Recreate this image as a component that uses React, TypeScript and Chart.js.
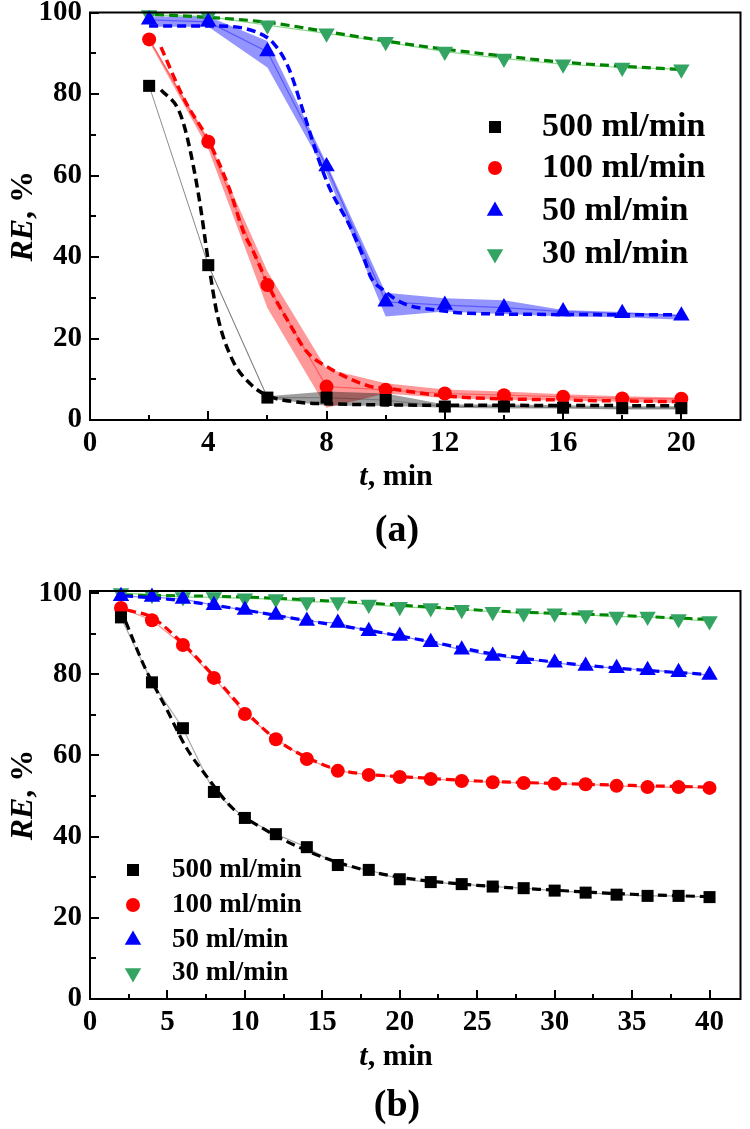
import React, { useEffect, useRef } from 'react';
import { Chart, registerables } from 'chart.js';
Chart.register(...registerables);

const SERIES_LABELS = ['500 ml/min', '100 ml/min', '50 ml/min', '30 ml/min'];

// ---------- panel (a) ----------
const T_A = [2, 4, 6, 8, 10, 12, 14, 16, 18, 20];
const RE_A_500 = [82, 38, 5.5, 5.5, 4.9, 3.3, 3.3, 3.0, 2.9, 2.9];
const RE_A_100 = [93.4, 68.3, 33.1, 8.2, 7.4, 6.5, 6.1, 5.7, 5.3, 5.2];
const RE_A_50 = [98.2, 97.7, 90.4, 62.2, 29, 28.2, 27.6, 26.6, 26.2, 25.6];
const RE_A_30 = [99.4, 99, 96.9, 94.9, 92.8, 90.4, 88.7, 87.3, 86.5, 86.1];

const BAND_A_500_LO = [81.8, 37.7, 5.3, 3.5, 3.5, 3.0, 2.8, 2.8, 2.6, 2.6];
const BAND_A_500_HI = [82.2, 38.3, 5.8, 7.0, 6.5, 3.8, 3.8, 3.6, 3.4, 3.4];
const BAND_A_100_LO = [92.8, 66.5, 27.5, 3.0, 6.5, 5.4, 5.0, 4.8, 4.5, 4.2];
const BAND_A_100_HI = [93.8, 69.0, 36.5, 12.5, 9.0, 7.5, 7.0, 6.3, 5.8, 5.5];
const BAND_A_50_LO = [96.5, 96.5, 86.5, 60.5, 25.4, 26.6, 26.0, 25.4, 25.2, 24.6];
const BAND_A_50_HI = [99.0, 99.0, 93.0, 63.0, 31.2, 29.9, 29.4, 27.0, 26.5, 25.8];

const FIT_A_500_T = [2.4, 3, 3.3, 3.7, 4, 4.3, 4.8, 5.4, 6, 7, 8, 10, 14, 20];
const FIT_A_500 = [81, 76, 69, 54, 39, 26, 15, 9, 6, 4.4, 4, 3.7, 3.6, 3.5];
const FIT_A_100_T = [2.4, 3.2, 4, 4.7, 5.2, 5.5, 6.1, 6.8, 7.3, 8.1, 9.5, 10, 12, 16, 20];
const FIT_A_100 = [91.5, 78.5, 68.7, 57, 46, 41.7, 32, 23, 17, 12.7, 8.2, 7.8, 5.9, 4.9, 4.5];
const FIT_A_50_T = [2, 4.3, 5.7, 6.2, 6.7, 7.2, 7.7, 8.1, 8.8, 9.3, 9.5, 9.9, 10.6, 11.7, 12.8, 16, 20];
const FIT_A_50 = [96.7, 96.7, 95, 92.5, 86.7, 76, 64.6, 57, 47.4, 39, 35, 32, 28.6, 27, 26.2, 25.9, 25.8];
const FIT_A_30_T = [2.2, 4, 6, 8, 10, 12, 14, 16, 18, 20];
const FIT_A_30 = [99.5, 98.8, 97.6, 95.3, 93, 91, 89.3, 87.8, 86.8, 86];

const X_TICKS_A = [0, 4, 8, 12, 16, 20];
const X_MINOR_A = [2, 6, 10, 14, 18];

// ---------- panel (b) ----------
const T_B = [2, 4, 6, 8, 10, 12, 14, 16, 18, 20, 22, 24, 26, 28, 30, 32, 34, 36, 38, 40];
const RE_B_500 = [94, 78, 66.7, 51, 44.6, 40.6, 37.4, 33, 31.8, 29.5, 28.8, 28.3, 27.7, 27.3, 26.7, 26.2, 25.7, 25.4, 25.4, 25.1];
const RE_B_100 = [96.3, 93.3, 87.2, 79.1, 70.2, 64, 59.1, 56.2, 55.2, 54.7, 54.2, 53.7, 53.4, 53.2, 53, 52.9, 52.5, 52.2, 52.2, 52];
const RE_B_50 = [99.2, 99, 98.5, 97, 95.8, 94.6, 93.1, 92.6, 90.6, 89.4, 87.9, 86, 84.5, 83.7, 82.8, 82, 81.5, 81, 80.5, 79.8];
const RE_B_30 = [100, 99.6, 99, 99, 98.7, 98.5, 97.8, 97.8, 97.2, 96.6, 96.3, 95.9, 95.4, 95, 95, 94.6, 94.2, 94.2, 93.6, 93.1];

const FIT_B_500_T = [2.3, 3.5, 5, 6.2, 7.5, 9.2, 11, 12.6, 15, 17.5, 20, 25, 30, 35, 40];
const FIT_B_500 = [93, 82, 71, 62, 55, 47, 42.4, 39, 35, 32, 30, 28, 26.8, 25.8, 25.2];
const FIT_B_100_T = [2.4, 4, 6, 8, 10, 12, 14, 16, 18, 20, 25, 30, 35, 40];
const FIT_B_100 = [95.8, 94, 87.5, 79.5, 71, 64, 59.5, 56.5, 55.3, 54.8, 53.7, 53.1, 52.6, 52.2];
const FIT_B_50_T = [2.2, 5, 8, 10, 14, 18, 22, 26, 30, 34, 40];
const FIT_B_50 = [99.3, 98.5, 97, 95.8, 93.2, 90.8, 88, 85, 83, 81.5, 79.9];
const FIT_B_30_T = [2.2, 10, 18, 26, 34, 40];
const FIT_B_30 = [99.5, 99, 97.5, 95.6, 94.5, 93.5];

const X_TICKS_B = [0, 5, 10, 15, 20, 25, 30, 35, 40];
const X_MINOR_B = [2.5, 7.5, 12.5, 17.5, 22.5, 27.5, 32.5, 37.5];

const Y_TICKS = [0, 20, 40, 60, 80, 100];
const Y_MINOR = [10, 30, 50, 70, 90];

// ---------- styles ----------
const FAMILY = '"Liberation Serif", "Times New Roman", serif';
const MARKER_COLORS = ['#000000', '#ff0000', '#0000ff', '#34a463'];
const FIT_COLORS = ['#000000', '#ff0000', '#0000ff', '#008000'];
const THIN_COLORS_A = ['rgba(0,0,0,0.22)', 'rgba(255,0,0,0.4)', 'rgba(0,0,255,0.4)', 'rgba(0,170,0,0.45)'];
const THIN_COLORS_B = ['rgba(0,0,0,0.35)', 'rgba(255,0,0,0.45)', 'rgba(0,0,255,0.45)', 'rgba(0,170,0,0.45)'];
const BAND_COLORS = ['rgba(0,0,0,0.38)', 'rgba(255,0,0,0.4)', 'rgba(0,0,255,0.42)'];
const MARKER_STYLES = ['rect', 'circle', 'triangle', 'triangle'];
const MARKER_ROT = [0, 0, 0, 180];
const MARKER_R = [8.5, 7, 9.5, 9.5];

const pts = (xs: number[], ys: number[]) => xs.map((x, i) => ({ x, y: ys[i] }));

function markerDs(i: number, xs: number[], ys: number[], thin: string[]) {
  return {
    label: SERIES_LABELS[i],
    data: pts(xs, ys),
    showLine: true,
    borderColor: thin[i],
    borderWidth: 1.2,
    pointStyle: MARKER_STYLES[i],
    pointRotation: MARKER_ROT[i],
    pointRadius: MARKER_R[i],
    pointBackgroundColor: MARKER_COLORS[i],
    pointBorderColor: MARKER_COLORS[i],
    pointBorderWidth: 0,
    fill: false,
    order: 0,
    clip: false,
  };
}

function fitDs(i: number, xs: number[], ys: number[], w: number) {
  return {
    label: SERIES_LABELS[i] + ' fit',
    data: pts(xs, ys),
    borderColor: FIT_COLORS[i],
    borderWidth: w,
    borderDash: [9, 5],
    pointRadius: 0,
    cubicInterpolationMode: 'monotone',
    fill: false,
    order: 1,
  };
}

function bandDs(i: number, xs: number[], lo: number[], hi: number[]) {
  return [
    {
      label: SERIES_LABELS[i] + ' hi',
      data: pts(xs, hi),
      borderColor: 'rgba(0,0,0,0)',
      borderWidth: 1,
      pointRadius: 0,
      fill: false,
      order: 2,
    },
    {
      label: SERIES_LABELS[i] + ' lo',
      data: pts(xs, lo),
      borderColor: 'rgba(0,0,0,0)',
      borderWidth: 1,
      pointRadius: 0,
      fill: '-1',
      backgroundColor: BAND_COLORS[i],
      order: 2,
    },
  ];
}

function drawMarker(ctx: CanvasRenderingContext2D, i: number, x: number, y: number) {
  const r = MARKER_R[i];
  ctx.fillStyle = MARKER_COLORS[i];
  ctx.beginPath();
  if (MARKER_STYLES[i] === 'rect') {
    const s = Math.SQRT1_2 * r;
    ctx.rect(x - s, y - s, 2 * s, 2 * s);
  } else if (MARKER_STYLES[i] === 'circle') {
    ctx.arc(x, y, r, 0, Math.PI * 2);
  } else {
    let rad = (MARKER_ROT[i] * Math.PI) / 180;
    const step = (2 * Math.PI) / 3;
    ctx.moveTo(x + Math.sin(rad) * r, y - Math.cos(rad) * r);
    rad += step;
    ctx.lineTo(x + Math.sin(rad) * r, y - Math.cos(rad) * r);
    rad += step;
    ctx.lineTo(x + Math.sin(rad) * r, y - Math.cos(rad) * r);
    ctx.closePath();
  }
  ctx.fill();
}

type Part = { text: string; italic?: boolean };
function drawParts(ctx: CanvasRenderingContext2D, parts: Part[], cx: number, y: number, size: number) {
  const fontOf = (p: Part) => `${p.italic ? 'italic ' : ''}bold ${size}px ${FAMILY}`;
  let total = 0;
  parts.forEach((p) => {
    ctx.font = fontOf(p);
    total += ctx.measureText(p.text).width;
  });
  let x = cx - total / 2;
  ctx.textAlign = 'left';
  ctx.textBaseline = 'alphabetic';
  parts.forEach((p) => {
    ctx.font = fontOf(p);
    ctx.fillText(p.text, x, y);
    x += ctx.measureText(p.text).width;
  });
}

type Deco = {
  xMinor: number[];
  xTitleY: number;
  panelLabel: string;
  panelY: number;
  legend: { mx: number; tx: number; rows: number[]; size: number };
};

function decorPlugin(d: Deco) {
  return {
    id: 'decor',
    afterDraw(chart: any) {
      const { ctx, chartArea: a, scales } = chart;
      const xs = scales.x;
      const ys = scales.y;
      ctx.save();
      ctx.strokeStyle = '#000';
      ctx.lineWidth = 2;
      ctx.strokeRect(a.left, a.top, a.right - a.left, a.bottom - a.top);
      ctx.beginPath();
      xs.ticks.forEach((t: any) => {
        const px = Math.round(xs.getPixelForValue(t.value));
        ctx.moveTo(px, a.bottom);
        ctx.lineTo(px, a.bottom - 9);
      });
      d.xMinor.forEach((v) => {
        const px = Math.round(xs.getPixelForValue(v));
        ctx.moveTo(px, a.bottom);
        ctx.lineTo(px, a.bottom - 5);
      });
      ys.ticks.forEach((t: any) => {
        const py = Math.round(ys.getPixelForValue(t.value));
        ctx.moveTo(a.left, py);
        ctx.lineTo(a.left + 9, py);
      });
      Y_MINOR.forEach((v) => {
        const py = Math.round(ys.getPixelForValue(v));
        ctx.moveTo(a.left, py);
        ctx.lineTo(a.left + 6, py);
      });
      ctx.stroke();

      ctx.fillStyle = '#000';
      // y title
      ctx.save();
      ctx.translate(32, (a.top + a.bottom) / 2);
      ctx.rotate(-Math.PI / 2);
      drawParts(ctx, [{ text: 'RE', italic: true }, { text: ', %' }], 0, 0, 32);
      ctx.restore();
      // x title
      drawParts(ctx, [{ text: 't', italic: true }, { text: ', min' }], 396, d.xTitleY, 30);
      // panel label
      drawParts(ctx, [{ text: d.panelLabel }], 397, d.panelY, 38);

      // legend
      const L = d.legend;
      L.rows.forEach((ry, i) => {
        drawMarker(ctx, i, L.mx, ry);
        ctx.fillStyle = '#000';
        ctx.font = `bold ${L.size}px ${FAMILY}`;
        ctx.textAlign = 'left';
        ctx.textBaseline = 'middle';
        ctx.fillText(SERIES_LABELS[i], L.tx, ry);
      });
      ctx.restore();
    },
  };
}

function makeConfig(p: {
  datasets: any[];
  xMax: number;
  yMax: number;
  xTicks: number[];
  padTop: number;
  padRight: number;
  xAxisH: number;
  deco: Deco;
}) {
  const tickFont = { family: FAMILY, size: 29, weight: 'bold' as const };
  return {
    type: 'line' as const,
    data: { datasets: p.datasets },
    options: {
      animation: false,
      responsive: false,
      events: [],
      layout: { padding: { top: p.padTop, right: p.padRight, left: 0, bottom: 0 } },
      plugins: { legend: { display: false }, tooltip: { enabled: false } },
      scales: {
        x: {
          type: 'linear',
          min: 0,
          max: p.xMax,
          afterBuildTicks: (s: any) => {
            s.ticks = p.xTicks.map((v) => ({ value: v }));
          },
          afterFit: (s: any) => {
            s.height = p.xAxisH;
            s.paddingLeft = 0;
            s.paddingRight = 0;
          },
          grid: { display: false, drawTicks: false },
          border: { display: false },
          ticks: { font: tickFont, color: '#000', padding: 6, maxRotation: 0, autoSkip: false },
        },
        y: {
          type: 'linear',
          min: 0,
          max: p.yMax,
          afterBuildTicks: (s: any) => {
            s.ticks = Y_TICKS.map((v) => ({ value: v }));
          },
          afterFit: (s: any) => {
            s.width = 90;
            s.paddingTop = 0;
            s.paddingBottom = 0;
          },
          grid: { display: false, drawTicks: false },
          border: { display: false },
          ticks: { font: tickFont, color: '#000', padding: 8, autoSkip: false },
        },
      },
    },
    plugins: [decorPlugin(p.deco)],
  };
}

export default function App() {
  const refA = useRef<HTMLCanvasElement>(null);
  const refB = useRef<HTMLCanvasElement>(null);

  useEffect(() => {
    const dsA = [
      markerDs(0, T_A, RE_A_500, THIN_COLORS_A),
      markerDs(1, T_A, RE_A_100, THIN_COLORS_A),
      markerDs(2, T_A, RE_A_50, THIN_COLORS_A),
      markerDs(3, T_A, RE_A_30, THIN_COLORS_A),
      fitDs(0, FIT_A_500_T, FIT_A_500, 3.5),
      fitDs(1, FIT_A_100_T, FIT_A_100, 3.5),
      fitDs(2, FIT_A_50_T, FIT_A_50, 3.5),
      fitDs(3, FIT_A_30_T, FIT_A_30, 3.2),
      ...bandDs(0, T_A, BAND_A_500_LO, BAND_A_500_HI),
      ...bandDs(1, T_A, BAND_A_100_LO, BAND_A_100_HI),
      ...bandDs(2, T_A, BAND_A_50_LO, BAND_A_50_HI),
    ];
    const dsB = [
      markerDs(0, T_B, RE_B_500, THIN_COLORS_B),
      markerDs(1, T_B, RE_B_100, THIN_COLORS_B),
      markerDs(2, T_B, RE_B_50, THIN_COLORS_B),
      markerDs(3, T_B, RE_B_30, THIN_COLORS_B),
      fitDs(0, FIT_B_500_T, FIT_B_500, 3.2),
      fitDs(1, FIT_B_100_T, FIT_B_100, 3.2),
      fitDs(2, FIT_B_50_T, FIT_B_50, 3.2),
      fitDs(3, FIT_B_30_T, FIT_B_30, 3.0),
    ];
    const chartA = new Chart(
      refA.current as HTMLCanvasElement,
      makeConfig({
        datasets: dsA,
        xMax: 22,
        yMax: 100,
        xTicks: X_TICKS_A,
        padTop: 12.5,
        padRight: 2,
        xAxisH: 140,
        deco: {
          xMinor: X_MINOR_A,
          xTitleY: 485,
          panelLabel: '(a)',
          panelY: 541,
          legend: { mx: 495, tx: 542, rows: [127, 168, 211, 254], size: 34 },
        },
      }) as any
    );
    const chartB = new Chart(
      refB.current as HTMLCanvasElement,
      makeConfig({
        datasets: dsB,
        xMax: 42,
        yMax: 100.5,
        xTicks: X_TICKS_B,
        padTop: 31,
        padRight: 3,
        xAxisH: 130,
        deco: {
          xMinor: X_MINOR_B,
          xTitleY: 505,
          panelLabel: '(b)',
          panelY: 556,
          legend: { mx: 133, tx: 172, rows: [310, 345, 380, 413], size: 27 },
        },
      }) as any
    );
    return () => {
      chartA.destroy();
      chartB.destroy();
    };
  }, []);

  return (
    <div style={{ position: 'absolute', left: 0, top: 0, width: 750, height: 1129, background: '#fff' }}>
      <canvas ref={refA} width={750} height={560} style={{ position: 'absolute', left: 0, top: 0, width: 750, height: 560 }} />
      <canvas ref={refB} width={750} height={569} style={{ position: 'absolute', left: 0, top: 560, width: 750, height: 569 }} />
    </div>
  );
}
